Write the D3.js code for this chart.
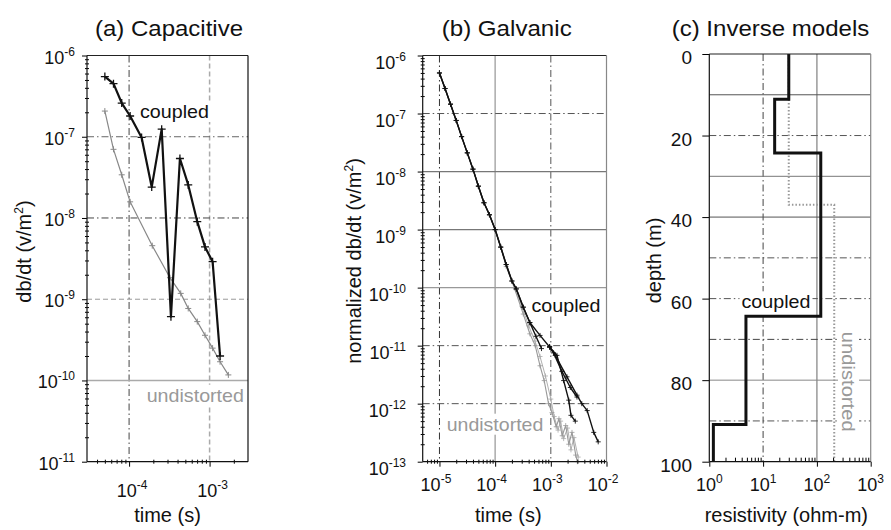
<!DOCTYPE html>
<html><head><meta charset="utf-8">
<script src="https://cdn.jsdelivr.net/npm/d3@7"></script>
<style>
body{margin:0;background:#fff;}
text{font-family:"Liberation Sans", Arial, Helvetica, sans-serif;fill:#111;}
</style></head><body>
<svg id="chart" width="891" height="530"></svg>
<script>
// ===================== DATA =====================
// (a) Capacitive
const capCoupledTime  = [5.0e-5,6.4e-5,8.1e-5,1.03e-4,1.43e-4,1.91e-4,2.54e-4,3.31e-4,4.28e-4,5.43e-4,7.03e-4,8.77e-4,1.09e-3,1.35e-3];
const capCoupledValue = [5.5e-7,4.5e-7,2.6e-7,1.8e-7,9.8e-8,2.4e-8,1.24e-7,6.1e-10,5.4e-8,2.55e-8,9.0e-9,4.4e-9,2.9e-9,2.0e-10];
const capUndistTime   = [5.0e-5,6.4e-5,8.1e-5,1.03e-4,1.94e-4,3.22e-4,4.38e-4,5.43e-4,7.03e-4,8.77e-4,1.09e-3,1.35e-3,1.71e-3];
const capUndistValue  = [2.07e-7,7.0e-8,3.4e-8,1.58e-8,4.56e-9,1.84e-9,1.18e-9,7.7e-10,5.3e-10,3.6e-10,2.5e-10,1.7e-10,1.17e-10];
const capXTicks = [1e-4,1e-3];           const capXExp = ["-4","-3"];
const capYTicks = [1e-6,1e-7,1e-8,1e-9,1e-10,1e-11]; const capYExp = ["-6","-7","-8","-9","-10","-11"];

// (b) Galvanic
const galEarlyTime  = [1.0e-5,1.26e-5,1.58e-5,2.0e-5,2.5e-5,3.16e-5,4.0e-5,5.0e-5,6.3e-5,7.9e-5,1.0e-4];
const galEarlyValue = [5.0e-7,2.7e-7,1.45e-7,7.6e-8,4.0e-8,2.1e-8,1.1e-8,5.6e-9,2.9e-9,1.8e-9,1.0e-9];
const galCoupledMidTime  = [1.26e-4,1.58e-4,2.0e-4,2.4e-4,3.2e-4,4.2e-4];
const galCoupledMidValue = [5.0e-10,2.5e-10,1.3e-10,9.5e-11,4.6e-11,2.5e-11];
const galCoupledATime  = [5.4e-4,6.8e-4];
const galCoupledAValue = [1.45e-11,8.9e-12];
const galCoupledLateTime  = [6.4e-4,9.5e-4];
const galCoupledLateValue = [1.5e-11,9.5e-12];
const galCoupledBTime  = [1.29e-3,1.7e-3,2.1e-3,2.3e-3,2.75e-3];
const galCoupledBValue = [6.8e-12,2.5e-12,1.15e-12,6.3e-13,5.0e-13];
const galCoupledCTime  = [1.2e-3,1.95e-3,2.95e-3,3.6e-3,4.5e-3,5.9e-3,7.1e-3];
const galCoupledCValue = [6.8e-12,2.9e-12,1.4e-12,1.0e-12,7.6e-13,3.2e-13,2.2e-13];
const galCoupledDTime  = [1.12e-3,1.58e-3,2.24e-3,2.95e-3];
const galCoupledDValue = [7.5e-12,3.6e-12,1.9e-12,1.3e-12];
const galUndist1Time  = [1.26e-4,1.58e-4,2.2e-4,3.2e-4,4.2e-4,5.25e-4,6.4e-4,7.6e-4,9.1e-4,1.05e-3,1.25e-3,1.4e-3,1.6e-3,1.85e-3,2.1e-3,2.4e-3,2.8e-3,3.0e-3];
const galUndist1Value = [4.9e-10,2.3e-10,1.0e-10,3.5e-11,1.6e-11,1.0e-11,4.5e-12,2.5e-12,1.0e-12,7e-13,4e-13,5.5e-13,2.8e-13,4.2e-13,2.0e-13,3.2e-13,1.3e-13,1.0e-13];
const galUndist2Time  = [2.2e-4,3.0e-4,4.0e-4,5.2e-4,6.4e-4,8.0e-4,1.0e-3,1.15e-3,1.35e-3,1.5e-3,1.7e-3,2.0e-3,2.3e-3,2.6e-3,3.1e-3];
const galUndist2Value = [1.0e-10,4.8e-11,2.2e-11,1.2e-11,6.5e-12,3.0e-12,1.2e-12,6e-13,3.5e-13,5e-13,2.5e-13,3.8e-13,1.6e-13,2.6e-13,1.2e-13];
const galXTicks = [1e-5,1e-4,1e-3,1e-2]; const galXExp = ["-5","-4","-3","-2"];
const galYTicks = [1e-6,1e-7,1e-8,1e-9,1e-10,1e-11,1e-12,1e-13];
const galYExp   = ["-6","-7","-8","-9","-10","-11","-12","-13"];

// (c) Inverse models
const invCoupledRes  = [30,16.4,118,4.8,1.19];
const invCoupledBase = [11.1,24.3,64.3,90.9];   // layer bottoms (m)
const invUndistRes   = [30,210];
const invUndistBase  = [37.0];
const invXTicks = [1,10,100,1000]; const invXExp = ["0","1","2","3"];
const invYTicks = [0,20,40,60,80,100];
const invGridDepths = [10,20,30,40,50,60,70,80,90];

// ===================== STYLES =====================
const DD = "7,3,1.5,3";
const capGridXStyle = [{c:"#444",d:DD,w:1},{c:"#aaa",d:"5,3",w:1.5}];
const capGridYStyle = [{c:"#666",d:DD,w:1},{c:"#444",d:DD,w:1},{c:"#999",d:"5,3",w:1},{c:"#aaa",d:null,w:1.5}];
const galGridXStyle = [{c:"#333",d:DD,w:1},{c:"#aaa",d:null,w:1.5},{c:"#555",d:DD,w:1}];
const galGridYStyle = [{c:"#555",d:DD,w:1},{c:"#777",d:null,w:1.2},{c:"#777",d:null,w:1.2},{c:"#999",d:null,w:1.2},{c:"#555",d:DD,w:1},{c:"#555",d:DD,w:1}];
const invGridXStyle = [{c:"#444",d:DD,w:1},{c:"#999",d:null,w:1.5}];
const invGridYStyle = [{c:"#555",d:null,w:1},{c:"#555",d:DD,w:1},{c:"#777",d:null,w:1},{c:"#555",d:null,w:1},{c:"#555",d:DD,w:1},{c:"#555",d:DD,w:1},{c:"#444",d:DD,w:1},{c:"#888",d:null,w:1},{c:"#555",d:DD,w:1}];

// ===================== DRAW =====================
const svg = d3.select("#chart");

const xA = d3.scaleLog().domain([3e-5,3e-3]).range([87,248]);
const yA = d3.scaleLog().domain([1e-11,1e-6]).range([461.7,55.5]);
const xB = d3.scaleLog().domain([5e-6,1e-2]).range([422.7,606.5]);
const yB = d3.scaleLog().domain([1e-13,1e-6]).range([461.7,55.5]);
const xC = d3.scaleLog().domain([1,1000]).range([709.3,870.7]);
const yC = d3.scaleLinear().domain([0,100]).range([54,461.7]);

function minorLog(dom){
  const out=[]; const e0=Math.floor(Math.log10(dom[0])), e1=Math.ceil(Math.log10(dom[1]));
  for(let e=e0;e<=e1;e++) for(let k=2;k<=9;k++){const v=k*Math.pow(10,e); if(v>dom[0]*1.0001&&v<dom[1]*0.9999) out.push(v);}
  return out;
}
function gridLines(g,vals,styles,fn){
  vals.forEach((v,i)=>{const s=styles[i]; const l=fn(g.append("line"),v);
    l.attr("stroke",s.c).attr("stroke-width",s.w); if(s.d) l.attr("stroke-dasharray",s.d);});
}
function powLabel(g,x,y,exp,anchor){
  const t=g.append("text").attr("x",x).attr("y",y).attr("text-anchor",anchor).style("font-size","18px");
  t.append("tspan").text("10");
  t.append("tspan").attr("dy",-8).style("font-size","12px").text(exp);
}
function bgLabel(g,txt,x,y,len,color,rot){
  const gg=g.append("g").attr("transform",`translate(${x},${y})`+(rot?` rotate(${rot})`:""));
  const t=gg.append("text").attr("text-anchor","middle").style("font-size","19px").style("fill",color)
    .attr("textLength",len).attr("lengthAdjust","spacingAndGlyphs").text(txt);
  const b=t.node().getBBox();
  gg.insert("rect","text").attr("x",b.x-2).attr("y",b.y).attr("width",b.width+4).attr("height",b.height).attr("fill","#fff");
}
function crosses(g,pts,x,y,s,color,w){
  g.append("path").attr("d",pts.map(p=>{const px=x(p[0]),py=y(p[1]);return `M${px-s},${py}H${px+s}M${px},${py-s}V${py+s}`;}).join(""))
   .attr("stroke",color).attr("stroke-width",w).attr("fill","none");
}
function seriesLine(g,pts,x,y,color,w){
  g.append("path").datum(pts).attr("d",d3.line().x(d=>x(d[0])).y(d=>y(d[1])))
   .attr("fill","none").attr("stroke",color).attr("stroke-width",w).attr("stroke-linejoin","round");
}
function axesTicks(g,x,y,xMaj,yMaj,xMinorIn,yMinor){
  const [x0]=x.range(), [y0]=y.range();
  const lM=g.append("g").attr("transform",`translate(${x0},0)`).call(d3.axisLeft(y).tickValues(yMaj).tickSize(5).tickFormat(""));
  lM.select(".domain").remove();
  if(yMinor){
    const lm=g.append("g").attr("transform",`translate(${x0},0)`).call(d3.axisLeft(y).tickValues(yMinor).tickSize(2).tickFormat(""));
    lm.select(".domain").remove(); lm.selectAll(".tick line").attr("x1",2);
  }
  const bM=g.append("g").attr("transform",`translate(0,${y0})`).call(d3.axisBottom(x).tickValues(xMaj).tickSize(5).tickFormat(""));
  bM.select(".domain").remove();
  const bm=g.append("g").attr("transform",`translate(0,${y0})`).call(d3.axisBottom(x).tickValues(minorLog(x.domain())).tickSize(xMinorIn?0:2).tickFormat(""));
  bm.select(".domain").remove(); bm.selectAll(".tick line").attr("y1",xMinorIn?-4:-2);
}
function frame(g,x,y,rightColor){
  const [x0,x1]=x.range(), [y0,y1]=y.range();
  g.append("line").attr("x1",x0).attr("x2",x1).attr("y1",y1).attr("y2",y1).attr("stroke","#222").attr("stroke-width",1.2);
  g.append("line").attr("x1",x1).attr("x2",x1).attr("y1",y1).attr("y2",y0).attr("stroke",rightColor).attr("stroke-width",1.2);
  g.append("line").attr("x1",x0).attr("x2",x0).attr("y1",y1).attr("y2",y0).attr("stroke","#111").attr("stroke-width",1.2);
  g.append("line").attr("x1",x0).attr("x2",x1).attr("y1",y0).attr("y2",y0).attr("stroke","#111").attr("stroke-width",1.2);
}
function title(txt,cx,len){
  svg.append("text").attr("x",cx).attr("y",36).attr("text-anchor","middle").style("font-size","22px")
    .attr("textLength",len).attr("lengthAdjust","spacingAndGlyphs").text(txt);
}
function yTitle(x,cy,parts){
  const t=svg.append("text").attr("transform",`translate(${x},${cy}) rotate(-90)`).attr("text-anchor","middle").style("font-size","20px");
  parts.forEach(p=>{const s=t.append("tspan").text(p.t); if(p.sup){s.style("font-size","12px").attr("dy",-8);} if(p.after){s.attr("dy",8);} });
}

// ---------- Panel (a) ----------
const gA=svg.append("g");
gridLines(gA,capXTicks,capGridXStyle,(l,v)=>l.attr("x1",xA(v)).attr("x2",xA(v)).attr("y1",yA.range()[1]).attr("y2",yA.range()[0]));
gridLines(gA,capYTicks.slice(1,5),capGridYStyle,(l,v)=>l.attr("y1",yA(v)).attr("y2",yA(v)).attr("x1",xA.range()[0]).attr("x2",xA.range()[1]));
bgLabel(gA,"coupled",174.5,118,69,"#111");
bgLabel(gA,"undistorted",195.3,401.7,97.3,"#999");
const capU=d3.zip(capUndistTime,capUndistValue), capC=d3.zip(capCoupledTime,capCoupledValue);
seriesLine(gA,capU,xA,yA,"#888",1.2); crosses(gA,capU,xA,yA,3,"#888",1);
seriesLine(gA,capC,xA,yA,"#111",2.2); crosses(gA,capC,xA,yA,4,"#111",1.3);
axesTicks(gA,xA,yA,capXTicks,capYTicks,false,minorLog(yA.domain()));
frame(gA,xA,yA,"#111");
capXTicks.forEach((v,i)=>powLabel(gA,xA(v)+3,497.3,capXExp[i],"middle"));
capYTicks.forEach((v,i)=>powLabel(gA,75,yA(v)+8,capYExp[i],"end"));
title("(a) Capacitive",169,148);
yTitle(31,251.5,[{t:"db/dt (v/m"},{t:"2",sup:true},{t:")",after:true}]);
svg.append("text").attr("x",167.5).attr("y",521.5).attr("text-anchor","middle").style("font-size","20px").text("time (s)");

// ---------- Panel (b) ----------
const gB=svg.append("g");
gridLines(gB,galXTicks.slice(0,3),galGridXStyle,(l,v)=>l.attr("x1",xB(v)).attr("x2",xB(v)).attr("y1",yB.range()[1]).attr("y2",yB.range()[0]));
gridLines(gB,galYTicks.slice(1,7),galGridYStyle,(l,v)=>l.attr("y1",yB(v)).attr("y2",yB(v)).attr("x1",xB.range()[0]).attr("x2",xB.range()[1]));
bgLabel(gB,"coupled",566,311.7,69,"#111");
bgLabel(gB,"undistorted",495,430.7,96.6,"#999");
const early=d3.zip(galEarlyTime,galEarlyValue);
const mid=d3.zip(galCoupledMidTime,galCoupledMidValue);
const late=d3.zip(galCoupledLateTime,galCoupledLateValue);
const gU1=early.concat(d3.zip(galUndist1Time,galUndist1Value));
const gU2=d3.zip(galUndist2Time,galUndist2Value);
const cA=early.concat(mid,d3.zip(galCoupledATime,galCoupledAValue));
const cTrunk=early.concat(mid,late);
const cB=[late[late.length-1]].concat(d3.zip(galCoupledBTime,galCoupledBValue));
const cC=[late[late.length-1]].concat(d3.zip(galCoupledCTime,galCoupledCValue));
const cD=[late[late.length-1]].concat(d3.zip(galCoupledDTime,galCoupledDValue));
seriesLine(gB,gU2,xB,yB,"#b0b0b0",1); crosses(gB,gU2,xB,yB,2.5,"#aaa",0.8);
seriesLine(gB,gU1,xB,yB,"#999",1.1); crosses(gB,gU1,xB,yB,2.5,"#999",0.8);
[cA,cTrunk,cB,cC,cD].forEach(s=>{seriesLine(gB,s,xB,yB,"#111",1.4); crosses(gB,s,xB,yB,2.5,"#111",0.9);});
axesTicks(gB,xB,yB,galXTicks,galYTicks,false,minorLog(yB.domain()));
frame(gB,xB,yB,"#888");
galXTicks.forEach((v,i)=>powLabel(gB,xB(v)-3.5,490.7,galXExp[i],"middle"));
galYTicks.forEach((v,i)=>powLabel(gB,406,yB(v)+13,galYExp[i],"end"));
title("(b) Galvanic",506.7,130);
yTitle(361,261,[{t:"normalized db/dt (v/m"},{t:"2",sup:true},{t:")",after:true}]);
svg.append("text").attr("x",508.3).attr("y",521.5).attr("text-anchor","middle").style("font-size","20px").text("time (s)");

// ---------- Panel (c) ----------
const gC=svg.append("g");
gridLines(gC,invXTicks.slice(1,3),invGridXStyle,(l,v)=>l.attr("x1",xC(v)).attr("x2",xC(v)).attr("y1",yC.range()[0]).attr("y2",yC.range()[1]));
gridLines(gC,invGridDepths,invGridYStyle,(l,v)=>l.attr("y1",yC(v)).attr("y2",yC(v)).attr("x1",xC.range()[0]).attr("x2",xC.range()[1]));
bgLabel(gC,"coupled",776,308.3,69,"#111");
bgLabel(gC,"undistorted",842,381.7,100,"#999",90);
function stepPts(res,base){
  const pts=[];
  res.forEach((r,i)=>{const top=i===0?yC.domain()[0]:base[i-1]; const bot=i<base.length?base[i]:yC.domain()[1]; pts.push([r,top],[r,bot]);});
  return pts;
}
gC.append("path").datum(stepPts(invUndistRes,invUndistBase)).attr("d",d3.line().x(d=>xC(d[0])).y(d=>yC(d[1])))
  .attr("fill","none").attr("stroke","#999").attr("stroke-width",2).attr("stroke-dasharray","1.5,2");
gC.append("path").datum(stepPts(invCoupledRes,invCoupledBase)).attr("d",d3.line().x(d=>xC(d[0])).y(d=>yC(d[1])))
  .attr("fill","none").attr("stroke","#111").attr("stroke-width",3).attr("stroke-linejoin","miter");
// ticks
const lC=gC.append("g").attr("transform",`translate(${xC.range()[0]},0)`).call(d3.axisLeft(yC).tickValues(invYTicks).tickSize(7).tickFormat(""));
lC.select(".domain").remove();
const bC=gC.append("g").attr("transform",`translate(0,${yC.range()[1]})`).call(d3.axisBottom(xC).tickValues(invXTicks).tickSize(5).tickFormat(""));
bC.select(".domain").remove();
const bCm=gC.append("g").attr("transform",`translate(0,${yC.range()[1]})`).call(d3.axisBottom(xC).tickValues(minorLog(xC.domain())).tickSize(0).tickFormat(""));
bCm.select(".domain").remove(); bCm.selectAll(".tick line").attr("y1",-4);
{
  const [x0,x1]=xC.range(), y0=yC.range()[0], y1=yC.range()[1];
  gC.append("line").attr("x1",x0).attr("x2",x1).attr("y1",y0).attr("y2",y0).attr("stroke","#222").attr("stroke-width",1.2);
  gC.append("line").attr("x1",x1).attr("x2",x1).attr("y1",y0).attr("y2",y1).attr("stroke","#888").attr("stroke-width",1.2);
  gC.append("line").attr("x1",x0).attr("x2",x0).attr("y1",y0).attr("y2",y1).attr("stroke","#111").attr("stroke-width",1.2);
  gC.append("line").attr("x1",x0).attr("x2",x1).attr("y1",y1).attr("y2",y1).attr("stroke","#111").attr("stroke-width",1.2);
}
invXTicks.forEach((v,i)=>powLabel(gC,xC(v),490.7,invXExp[i],"middle"));
invYTicks.forEach(v=>gC.append("text").attr("x",692).attr("y",yC(v)+10).attr("text-anchor","end").style("font-size","19px").text(v));
title("(c) Inverse models",770.5,197.6);
yTitle(661,260.5,[{t:"depth (m)"}]);
svg.append("text").attr("x",786.3).attr("y",521.5).attr("text-anchor","middle").style("font-size","20px").text("resistivity (ohm-m)");
</script>
</body></html>
